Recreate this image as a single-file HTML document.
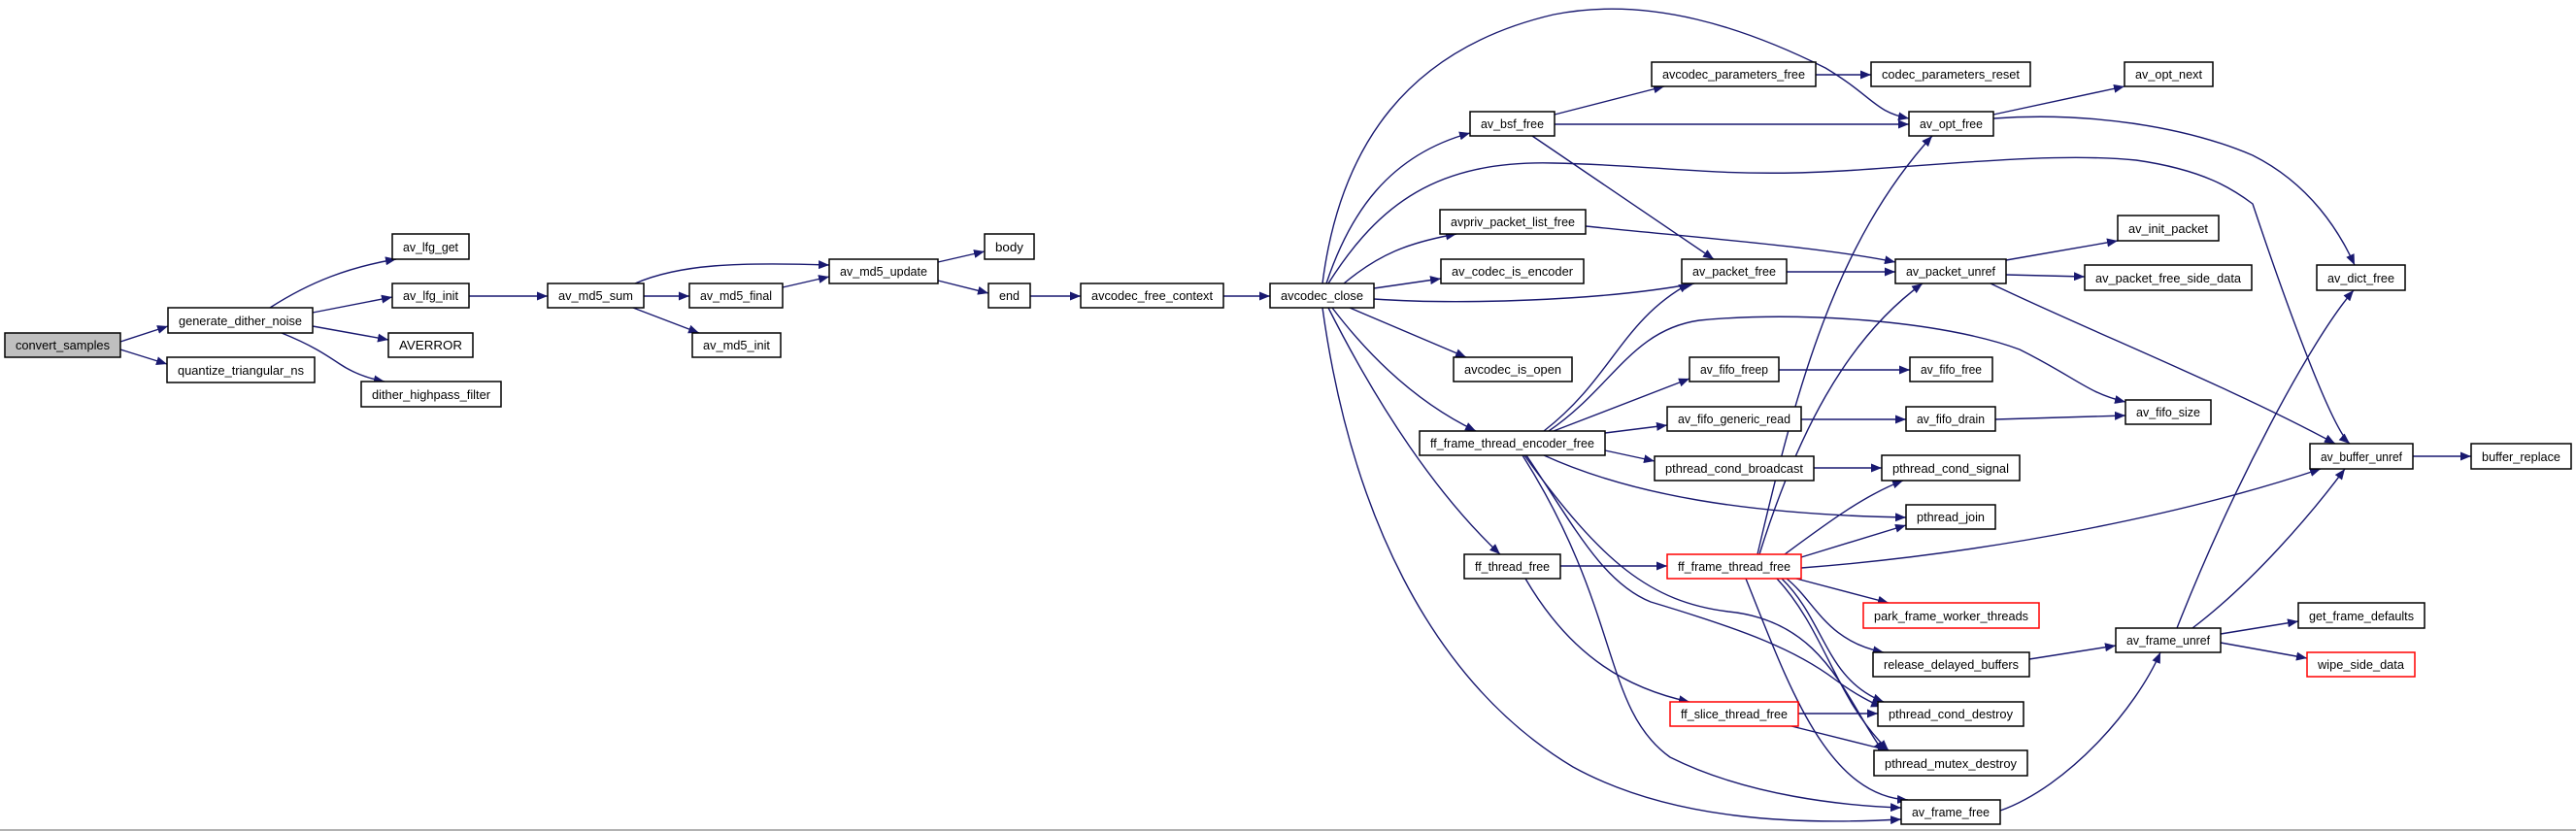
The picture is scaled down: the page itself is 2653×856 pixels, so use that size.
<!DOCTYPE html>
<html><head><meta charset="utf-8"><style>
html,body{margin:0;padding:0;background:#fff;}
svg{display:block;}
text{font-family:"Liberation Sans",Arial,sans-serif;font-size:13px;fill:#000;}
.e{fill:none;stroke:#191970;stroke-width:1.4;}
.n{fill:#fff;stroke:#000;stroke-width:1.5;}
.r{fill:#fff;stroke:#ff0000;stroke-width:1.5;}
</style></head><body>
<svg width="2653" height="856" viewBox="0 0 2653 856" xmlns="http://www.w3.org/2000/svg">
<defs><marker id="a" markerUnits="userSpaceOnUse" markerWidth="12" markerHeight="9" refX="11" refY="4.5" orient="auto"><path d="M0,0 L11,4.5 L0,9 z" fill="#191970"/></marker></defs>
<rect x="0" y="0" width="2653" height="856" fill="#fff"/>
<line x1="0" y1="855" x2="2653" y2="855" stroke="#999" stroke-width="1.5"/>
<g class="e" marker-end="url(#a)">
<path class="e" marker-end="url(#a)" d="M124,352 L173,336"/>
<path class="e" marker-end="url(#a)" d="M124,360 L172,375"/>
<path class="e" marker-end="url(#a)" d="M278,317 C320,290 360,275 408,267"/>
<path class="e" marker-end="url(#a)" d="M322,322 L404,306"/>
<path class="e" marker-end="url(#a)" d="M322,336 L400,350"/>
<path class="e" marker-end="url(#a)" d="M290,343 C320,355 335,365 350,375 C365,385 380,390 396,393"/>
<path class="e" marker-end="url(#a)" d="M483,305 L564,305"/>
<path class="e" marker-end="url(#a)" d="M654,292 C700,272 760,270 854,273"/>
<path class="e" marker-end="url(#a)" d="M663,305 L710,305"/>
<path class="e" marker-end="url(#a)" d="M652,317 L720,343"/>
<path class="e" marker-end="url(#a)" d="M806,296 L854,285"/>
<path class="e" marker-end="url(#a)" d="M966,270 L1014,259"/>
<path class="e" marker-end="url(#a)" d="M966,289 L1018,302"/>
<path class="e" marker-end="url(#a)" d="M1061,305 L1113,305"/>
<path class="e" marker-end="url(#a)" d="M1260,305 L1308,305"/>
<path class="e" marker-end="url(#a)" d="M1362,292 C1380,150 1450,50 1600,15 C1700,-5 1800,30 1880,70 C1930,100 1930,115 1966,122"/>
<path class="e" marker-end="url(#a)" d="M1366,292 C1390,220 1430,160 1514,137"/>
<path class="e" marker-end="url(#a)" d="M1384,292 C1420,262 1450,250 1500,241"/>
<path class="e" marker-end="url(#a)" d="M1415,297 L1484,287"/>
<path class="e" marker-end="url(#a)" d="M1415,308 C1500,314 1650,310 1745,292"/>
<path class="e" marker-end="url(#a)" d="M1368,292 C1420,210 1480,165 1600,168 C1700,170 1750,180 1850,178 C1950,176 2100,155 2200,165 C2270,175 2300,195 2320,210 C2350,300 2400,440 2420,457"/>
<path class="e" marker-end="url(#a)" d="M1390,317 L1510,368"/>
<path class="e" marker-end="url(#a)" d="M1372,317 C1420,380 1470,420 1520,444"/>
<path class="e" marker-end="url(#a)" d="M1368,317 C1420,420 1480,510 1545,571"/>
<path class="e" marker-end="url(#a)" d="M1362,317 C1390,520 1470,700 1620,790 C1720,845 1850,850 1958,844"/>
<path class="e" marker-end="url(#a)" d="M1601,118 L1714,89"/>
<path class="e" marker-end="url(#a)" d="M1601,128 L1966,128"/>
<path class="e" marker-end="url(#a)" d="M1578,140 L1765,267"/>
<path class="e" marker-end="url(#a)" d="M1870,77 L1927,77"/>
<path class="e" marker-end="url(#a)" d="M1633,233 C1750,245 1880,255 1952,270"/>
<path class="e" marker-end="url(#a)" d="M1840,280 L1952,280"/>
<path class="e" marker-end="url(#a)" d="M2053,118 L2188,89"/>
<path class="e" marker-end="url(#a)" d="M2053,122 C2150,115 2250,130 2320,160 C2380,190 2410,240 2425,273"/>
<path class="e" marker-end="url(#a)" d="M2066,268 L2181,248"/>
<path class="e" marker-end="url(#a)" d="M2066,283 L2147,285"/>
<path class="e" marker-end="url(#a)" d="M2050,292 C2150,340 2300,400 2405,457"/>
<path class="e" marker-end="url(#a)" d="M1590,444 C1660,390 1670,330 1740,292"/>
<path class="e" marker-end="url(#a)" d="M1595,444 C1660,400 1680,340 1750,330 C1850,320 2000,330 2080,360 C2140,390 2150,405 2189,414"/>
<path class="e" marker-end="url(#a)" d="M1600,444 L1740,390"/>
<path class="e" marker-end="url(#a)" d="M1653,446 L1717,438"/>
<path class="e" marker-end="url(#a)" d="M1653,464 L1704,475"/>
<path class="e" marker-end="url(#a)" d="M1590,469 C1680,510 1800,530 1963,533"/>
<path class="e" marker-end="url(#a)" d="M1572,469 C1620,540 1650,600 1700,620 C1800,650 1850,670 1890,700 C1910,715 1930,725 1938,728"/>
<path class="e" marker-end="url(#a)" d="M1570,469 C1650,580 1700,620 1780,630 C1880,640 1900,720 1940,775"/>
<path class="e" marker-end="url(#a)" d="M1568,469 C1670,630 1650,730 1720,780 C1800,820 1900,830 1958,832"/>
<path class="e" marker-end="url(#a)" d="M1832,381 L1967,381"/>
<path class="e" marker-end="url(#a)" d="M1855,432 L1963,432"/>
<path class="e" marker-end="url(#a)" d="M2055,432 L2189,428"/>
<path class="e" marker-end="url(#a)" d="M1868,482 L1938,482"/>
<path class="e" marker-end="url(#a)" d="M1810,571 C1850,400 1890,250 1990,140"/>
<path class="e" marker-end="url(#a)" d="M1812,571 C1850,450 1900,350 1980,292"/>
<path class="e" marker-end="url(#a)" d="M1838,571 C1880,540 1920,510 1960,495"/>
<path class="e" marker-end="url(#a)" d="M1855,574 L1963,541"/>
<path class="e" marker-end="url(#a)" d="M1855,585 C2050,570 2250,530 2390,483"/>
<path class="e" marker-end="url(#a)" d="M1850,596 L1945,621"/>
<path class="e" marker-end="url(#a)" d="M1840,596 C1870,620 1880,660 1940,672"/>
<path class="e" marker-end="url(#a)" d="M1835,596 C1880,640 1880,700 1940,723"/>
<path class="e" marker-end="url(#a)" d="M1830,596 C1880,650 1890,720 1945,773"/>
<path class="e" marker-end="url(#a)" d="M1798,596 C1840,700 1880,820 1965,824"/>
<path class="e" marker-end="url(#a)" d="M1607,583 L1717,583"/>
<path class="e" marker-end="url(#a)" d="M1571,596 C1620,680 1680,710 1740,723"/>
<path class="e" marker-end="url(#a)" d="M1852,735 L1934,735"/>
<path class="e" marker-end="url(#a)" d="M1845,748 L1945,773"/>
<path class="e" marker-end="url(#a)" d="M2090,679 L2179,665"/>
<path class="e" marker-end="url(#a)" d="M2242,647 C2300,500 2380,350 2424,299"/>
<path class="e" marker-end="url(#a)" d="M2258,647 C2320,600 2380,530 2415,483"/>
<path class="e" marker-end="url(#a)" d="M2287,653 L2367,640"/>
<path class="e" marker-end="url(#a)" d="M2287,662 L2376,678"/>
<path class="e" marker-end="url(#a)" d="M2060,835 C2130,810 2200,730 2225,672"/>
<path class="e" marker-end="url(#a)" d="M2485,470 L2545,470"/>
</g>
<g id="nodes">
<rect x="5" y="343" width="119" height="25" fill="#bfbfbf" stroke="#000" stroke-width="1.5"/><text x="64.5" y="360" text-anchor="middle" textLength="97" lengthAdjust="spacingAndGlyphs">convert_samples</text>
<rect class="n" x="173" y="317" width="149" height="26"/><text x="247.5" y="335" text-anchor="middle" textLength="127" lengthAdjust="spacingAndGlyphs">generate_dither_noise</text>
<rect class="n" x="172" y="368" width="152" height="26"/><text x="248" y="386" text-anchor="middle" textLength="130" lengthAdjust="spacingAndGlyphs">quantize_triangular_ns</text>
<rect class="n" x="404" y="241" width="79" height="26"/><text x="443.5" y="259" text-anchor="middle" textLength="57" lengthAdjust="spacingAndGlyphs">av_lfg_get</text>
<rect class="n" x="404" y="292" width="79" height="25"/><text x="443.5" y="309" text-anchor="middle" textLength="57" lengthAdjust="spacingAndGlyphs">av_lfg_init</text>
<rect class="n" x="400" y="343" width="87" height="25"/><text x="443.5" y="360" text-anchor="middle" textLength="65" lengthAdjust="spacingAndGlyphs">AVERROR</text>
<rect class="n" x="372" y="393" width="144" height="26"/><text x="444" y="411" text-anchor="middle" textLength="122" lengthAdjust="spacingAndGlyphs">dither_highpass_filter</text>
<rect class="n" x="564" y="292" width="99" height="25"/><text x="613.5" y="309" text-anchor="middle" textLength="77" lengthAdjust="spacingAndGlyphs">av_md5_sum</text>
<rect class="n" x="710" y="292" width="96" height="25"/><text x="758" y="309" text-anchor="middle" textLength="74" lengthAdjust="spacingAndGlyphs">av_md5_final</text>
<rect class="n" x="713" y="343" width="91" height="25"/><text x="758.5" y="360" text-anchor="middle" textLength="69" lengthAdjust="spacingAndGlyphs">av_md5_init</text>
<rect class="n" x="854" y="267" width="112" height="25"/><text x="910" y="284" text-anchor="middle" textLength="90" lengthAdjust="spacingAndGlyphs">av_md5_update</text>
<rect class="n" x="1014" y="241" width="51" height="26"/><text x="1039.5" y="259" text-anchor="middle" textLength="29" lengthAdjust="spacingAndGlyphs">body</text>
<rect class="n" x="1018" y="292" width="43" height="25"/><text x="1039.5" y="309" text-anchor="middle" textLength="21" lengthAdjust="spacingAndGlyphs">end</text>
<rect class="n" x="1113" y="292" width="147" height="25"/><text x="1186.5" y="309" text-anchor="middle" textLength="125" lengthAdjust="spacingAndGlyphs">avcodec_free_context</text>
<rect class="n" x="1308" y="292" width="107" height="25"/><text x="1361.5" y="309" text-anchor="middle" textLength="85" lengthAdjust="spacingAndGlyphs">avcodec_close</text>
<rect class="n" x="1514" y="115" width="87" height="25"/><text x="1557.5" y="132" text-anchor="middle" textLength="65" lengthAdjust="spacingAndGlyphs">av_bsf_free</text>
<rect class="n" x="1701" y="64" width="169" height="25"/><text x="1785.5" y="81" text-anchor="middle" textLength="147" lengthAdjust="spacingAndGlyphs">avcodec_parameters_free</text>
<rect class="n" x="1927" y="64" width="164" height="25"/><text x="2009" y="81" text-anchor="middle" textLength="142" lengthAdjust="spacingAndGlyphs">codec_parameters_reset</text>
<rect class="n" x="1966" y="115" width="87" height="25"/><text x="2009.5" y="132" text-anchor="middle" textLength="65" lengthAdjust="spacingAndGlyphs">av_opt_free</text>
<rect class="n" x="2188" y="64" width="91" height="25"/><text x="2233.5" y="81" text-anchor="middle" textLength="69" lengthAdjust="spacingAndGlyphs">av_opt_next</text>
<rect class="n" x="1483" y="216" width="150" height="25"/><text x="1558" y="233" text-anchor="middle" textLength="128" lengthAdjust="spacingAndGlyphs">avpriv_packet_list_free</text>
<rect class="n" x="1484" y="267" width="147" height="25"/><text x="1557.5" y="284" text-anchor="middle" textLength="125" lengthAdjust="spacingAndGlyphs">av_codec_is_encoder</text>
<rect class="n" x="1732" y="267" width="108" height="25"/><text x="1786" y="284" text-anchor="middle" textLength="86" lengthAdjust="spacingAndGlyphs">av_packet_free</text>
<rect class="n" x="1952" y="267" width="114" height="25"/><text x="2009" y="284" text-anchor="middle" textLength="92" lengthAdjust="spacingAndGlyphs">av_packet_unref</text>
<rect class="n" x="2181" y="222" width="104" height="26"/><text x="2233" y="240" text-anchor="middle" textLength="82" lengthAdjust="spacingAndGlyphs">av_init_packet</text>
<rect class="n" x="2147" y="273" width="172" height="26"/><text x="2233" y="291" text-anchor="middle" textLength="150" lengthAdjust="spacingAndGlyphs">av_packet_free_side_data</text>
<rect class="n" x="2386" y="273" width="91" height="26"/><text x="2431.5" y="291" text-anchor="middle" textLength="69" lengthAdjust="spacingAndGlyphs">av_dict_free</text>
<rect class="n" x="1497" y="368" width="122" height="25"/><text x="1558" y="385" text-anchor="middle" textLength="100" lengthAdjust="spacingAndGlyphs">avcodec_is_open</text>
<rect class="n" x="1740" y="368" width="92" height="25"/><text x="1786" y="385" text-anchor="middle" textLength="70" lengthAdjust="spacingAndGlyphs">av_fifo_freep</text>
<rect class="n" x="1967" y="368" width="85" height="25"/><text x="2009.5" y="385" text-anchor="middle" textLength="63" lengthAdjust="spacingAndGlyphs">av_fifo_free</text>
<rect class="n" x="1717" y="419" width="138" height="25"/><text x="1786" y="436" text-anchor="middle" textLength="116" lengthAdjust="spacingAndGlyphs">av_fifo_generic_read</text>
<rect class="n" x="1963" y="419" width="92" height="25"/><text x="2009" y="436" text-anchor="middle" textLength="70" lengthAdjust="spacingAndGlyphs">av_fifo_drain</text>
<rect class="n" x="2189" y="412" width="88" height="25"/><text x="2233" y="429" text-anchor="middle" textLength="66" lengthAdjust="spacingAndGlyphs">av_fifo_size</text>
<rect class="n" x="1462" y="444" width="191" height="25"/><text x="1557.5" y="461" text-anchor="middle" textLength="169" lengthAdjust="spacingAndGlyphs">ff_frame_thread_encoder_free</text>
<rect class="n" x="1704" y="470" width="164" height="25"/><text x="1786" y="487" text-anchor="middle" textLength="142" lengthAdjust="spacingAndGlyphs">pthread_cond_broadcast</text>
<rect class="n" x="1938" y="469" width="142" height="26"/><text x="2009" y="487" text-anchor="middle" textLength="120" lengthAdjust="spacingAndGlyphs">pthread_cond_signal</text>
<rect class="n" x="2379" y="457" width="106" height="26"/><text x="2432" y="475" text-anchor="middle" textLength="84" lengthAdjust="spacingAndGlyphs">av_buffer_unref</text>
<rect class="n" x="2545" y="457" width="103" height="26"/><text x="2596.5" y="475" text-anchor="middle" textLength="81" lengthAdjust="spacingAndGlyphs">buffer_replace</text>
<rect class="n" x="1963" y="520" width="92" height="25"/><text x="2009" y="537" text-anchor="middle" textLength="70" lengthAdjust="spacingAndGlyphs">pthread_join</text>
<rect class="n" x="1508" y="571" width="99" height="25"/><text x="1557.5" y="588" text-anchor="middle" textLength="77" lengthAdjust="spacingAndGlyphs">ff_thread_free</text>
<rect class="r" x="1717" y="571" width="138" height="25"/><text x="1786" y="588" text-anchor="middle" textLength="116" lengthAdjust="spacingAndGlyphs">ff_frame_thread_free</text>
<rect class="r" x="1919" y="621" width="181" height="26"/><text x="2009.5" y="639" text-anchor="middle" textLength="159" lengthAdjust="spacingAndGlyphs">park_frame_worker_threads</text>
<rect class="n" x="1929" y="672" width="161" height="25"/><text x="2009.5" y="689" text-anchor="middle" textLength="139" lengthAdjust="spacingAndGlyphs">release_delayed_buffers</text>
<rect class="n" x="2179" y="647" width="108" height="25"/><text x="2233" y="664" text-anchor="middle" textLength="86" lengthAdjust="spacingAndGlyphs">av_frame_unref</text>
<rect class="n" x="2367" y="621" width="130" height="26"/><text x="2432" y="639" text-anchor="middle" textLength="108" lengthAdjust="spacingAndGlyphs">get_frame_defaults</text>
<rect class="r" x="2376" y="672" width="111" height="25"/><text x="2431.5" y="689" text-anchor="middle" textLength="89" lengthAdjust="spacingAndGlyphs">wipe_side_data</text>
<rect class="r" x="1720" y="723" width="132" height="25"/><text x="1786" y="740" text-anchor="middle" textLength="110" lengthAdjust="spacingAndGlyphs">ff_slice_thread_free</text>
<rect class="n" x="1934" y="723" width="150" height="25"/><text x="2009" y="740" text-anchor="middle" textLength="128" lengthAdjust="spacingAndGlyphs">pthread_cond_destroy</text>
<rect class="n" x="1930" y="773" width="158" height="26"/><text x="2009" y="791" text-anchor="middle" textLength="136" lengthAdjust="spacingAndGlyphs">pthread_mutex_destroy</text>
<rect class="n" x="1958" y="824" width="102" height="25"/><text x="2009" y="841" text-anchor="middle" textLength="80" lengthAdjust="spacingAndGlyphs">av_frame_free</text>
</g>
</svg>
</body></html>
